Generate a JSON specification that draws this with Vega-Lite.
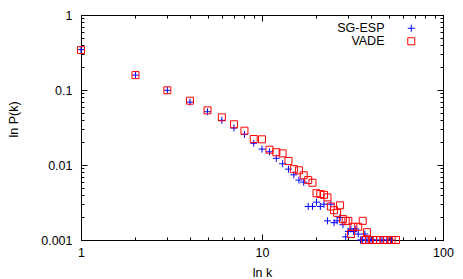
{
  "$schema": "https://vega.github.io/schema/vega-lite/v6.json",
  "width": 362,
  "height": 225,
  "autosize": {"type": "none"},
  "padding": {"left": 81, "top": 15, "right": 20, "bottom": 39},
  "background": "white",
  "config": {
    "font": "Liberation Sans",
    "view": {"stroke": "black", "strokeWidth": 1}
  },
  "data": {
    "values": [
      {"series": "SG-ESP", "k": 1, "p": 0.345},
      {"series": "SG-ESP", "k": 2, "p": 0.158},
      {"series": "SG-ESP", "k": 3, "p": 0.099},
      {"series": "SG-ESP", "k": 4, "p": 0.069},
      {"series": "SG-ESP", "k": 5, "p": 0.0513},
      {"series": "SG-ESP", "k": 6, "p": 0.0394},
      {"series": "SG-ESP", "k": 7, "p": 0.0311},
      {"series": "SG-ESP", "k": 8, "p": 0.0256},
      {"series": "SG-ESP", "k": 9, "p": 0.0195},
      {"series": "SG-ESP", "k": 10, "p": 0.0163},
      {"series": "SG-ESP", "k": 11, "p": 0.015},
      {"series": "SG-ESP", "k": 12, "p": 0.0123},
      {"series": "SG-ESP", "k": 13, "p": 0.0104},
      {"series": "SG-ESP", "k": 14, "p": 0.0088},
      {"series": "SG-ESP", "k": 15, "p": 0.0074},
      {"series": "SG-ESP", "k": 16, "p": 0.0063},
      {"series": "SG-ESP", "k": 17, "p": 0.0059},
      {"series": "SG-ESP", "k": 18, "p": 0.0028},
      {"series": "SG-ESP", "k": 19, "p": 0.0028},
      {"series": "SG-ESP", "k": 20, "p": 0.0032},
      {"series": "SG-ESP", "k": 21, "p": 0.0028},
      {"series": "SG-ESP", "k": 22, "p": 0.003},
      {"series": "SG-ESP", "k": 23, "p": 0.0018},
      {"series": "SG-ESP", "k": 24, "p": 0.003},
      {"series": "SG-ESP", "k": 25, "p": 0.0017},
      {"series": "SG-ESP", "k": 26, "p": 0.0018},
      {"series": "SG-ESP", "k": 27, "p": 0.002},
      {"series": "SG-ESP", "k": 28, "p": 0.0016},
      {"series": "SG-ESP", "k": 29, "p": 0.0011},
      {"series": "SG-ESP", "k": 30, "p": 0.0013},
      {"series": "SG-ESP", "k": 31, "p": 0.0014},
      {"series": "SG-ESP", "k": 32, "p": 0.0013},
      {"series": "SG-ESP", "k": 33, "p": 0.0014},
      {"series": "SG-ESP", "k": 34, "p": 0.0012},
      {"series": "SG-ESP", "k": 37, "p": 0.0012},
      {"series": "SG-ESP", "k": 35, "p": 0.001},
      {"series": "SG-ESP", "k": 36, "p": 0.001},
      {"series": "SG-ESP", "k": 38, "p": 0.001},
      {"series": "SG-ESP", "k": 40, "p": 0.001},
      {"series": "SG-ESP", "k": 41, "p": 0.001},
      {"series": "SG-ESP", "k": 43, "p": 0.001},
      {"series": "SG-ESP", "k": 46, "p": 0.001},
      {"series": "SG-ESP", "k": 49, "p": 0.001},
      {"series": "SG-ESP", "k": 52, "p": 0.001},
      {"series": "VADE", "k": 1, "p": 0.34},
      {"series": "VADE", "k": 2, "p": 0.158},
      {"series": "VADE", "k": 3, "p": 0.099},
      {"series": "VADE", "k": 4, "p": 0.072},
      {"series": "VADE", "k": 5, "p": 0.0536},
      {"series": "VADE", "k": 6, "p": 0.0432},
      {"series": "VADE", "k": 7, "p": 0.0349},
      {"series": "VADE", "k": 8, "p": 0.0287},
      {"series": "VADE", "k": 9, "p": 0.0222},
      {"series": "VADE", "k": 10, "p": 0.022},
      {"series": "VADE", "k": 11, "p": 0.016},
      {"series": "VADE", "k": 12, "p": 0.0148},
      {"series": "VADE", "k": 13, "p": 0.0143},
      {"series": "VADE", "k": 14, "p": 0.0113},
      {"series": "VADE", "k": 15, "p": 0.0088},
      {"series": "VADE", "k": 16, "p": 0.0085},
      {"series": "VADE", "k": 17, "p": 0.0073},
      {"series": "VADE", "k": 18, "p": 0.0063},
      {"series": "VADE", "k": 19, "p": 0.0058},
      {"series": "VADE", "k": 20, "p": 0.0042},
      {"series": "VADE", "k": 21, "p": 0.0041},
      {"series": "VADE", "k": 22, "p": 0.004},
      {"series": "VADE", "k": 23, "p": 0.0037},
      {"series": "VADE", "k": 24, "p": 0.0028},
      {"series": "VADE", "k": 25, "p": 0.0025},
      {"series": "VADE", "k": 26, "p": 0.0023},
      {"series": "VADE", "k": 27, "p": 0.0029},
      {"series": "VADE", "k": 28, "p": 0.0019},
      {"series": "VADE", "k": 29, "p": 0.0018},
      {"series": "VADE", "k": 30, "p": 0.0018},
      {"series": "VADE", "k": 31, "p": 0.0012},
      {"series": "VADE", "k": 32, "p": 0.0015},
      {"series": "VADE", "k": 34, "p": 0.0015},
      {"series": "VADE", "k": 36, "p": 0.0018},
      {"series": "VADE", "k": 38, "p": 0.00127},
      {"series": "VADE", "k": 37, "p": 0.001},
      {"series": "VADE", "k": 39, "p": 0.001},
      {"series": "VADE", "k": 41, "p": 0.001},
      {"series": "VADE", "k": 43, "p": 0.001},
      {"series": "VADE", "k": 45, "p": 0.001},
      {"series": "VADE", "k": 47, "p": 0.001},
      {"series": "VADE", "k": 49, "p": 0.001},
      {"series": "VADE", "k": 52, "p": 0.001},
      {"series": "VADE", "k": 55, "p": 0.001}
    ]
  },
  "layer": [
    {
      "mark": {"type": "point", "filled": false, "strokeWidth": 1, "size": 49, "opacity": 1},
      "encoding": {
        "x": {
          "field": "k", "type": "quantitative",
          "scale": {"type": "log", "domain": [1, 100], "nice": false},
          "axis": {
            "orient": "bottom",
            "values": [1,2,3,4,5,6,7,8,9,10,20,30,40,50,60,70,80,90,100],
            "labelExpr": "datum.value == 1 ? '1' : datum.value == 10 ? '10' : datum.value == 100 ? '100' : ''",
            "tickSize": {"condition": {"test": "datum.value == 1 || datum.value == 10 || datum.value == 100", "value": -6}, "value": -3},
            "tickColor": "black", "domainColor": "black", "grid": false,
            "labelPadding": 12, "labelFontSize": 12.5, "labelColor": "black",
            "labelFlush": false, "labelOverlap": false,
            "title": "ln k", "titleFontSize": 12.5, "titleFontWeight": "normal", "titleColor": "black",
            "titleY": 32, "titleBaseline": "middle"
          }
        },
        "y": {
          "field": "p", "type": "quantitative",
          "scale": {"type": "log", "domain": [0.001, 1], "nice": false},
          "axis": {
            "orient": "left",
            "values": [0.001,0.002,0.003,0.004,0.005,0.006,0.007,0.008,0.009,0.01,0.02,0.03,0.04,0.05,0.06,0.07,0.08,0.09,0.1,0.2,0.3,0.4,0.5,0.6,0.7,0.8,0.9,1],
            "labelExpr": "datum.value == 1 ? '1' : datum.value == 0.1 ? '0.1' : datum.value == 0.01 ? '0.01' : datum.value == 0.001 ? '0.001' : ''",
            "tickSize": {"condition": {"test": "datum.value == 1 || datum.value == 0.1 || datum.value == 0.01 || datum.value == 0.001", "value": -6}, "value": -3},
            "tickColor": "black", "domainColor": "black", "grid": false,
            "labelPadding": 15, "labelFontSize": 12.5, "labelColor": "black",
            "labelFlush": false, "labelOverlap": false,
            "title": "ln P(k)", "titleFontSize": 12.5, "titleFontWeight": "normal", "titleColor": "black",
            "titleX": -68, "titleY": 104, "titleAngle": 270, "titleAlign": "center", "titleBaseline": "middle"
          }
        },
        "color": {
          "field": "series", "type": "nominal",
          "scale": {"domain": ["SG-ESP", "VADE"], "range": ["#0000ff", "#ff0000"]},
          "legend": {
            "title": null, "orient": "none", "legendX": 324, "legendY": 7,
            "labelAlign": "right", "labelOffset": -33, "symbolSize": 49, "symbolStrokeWidth": 1,
            "labelFontSize": 12.5, "labelColor": "black", "padding": 0, "rowPadding": -7
          }
        },
        "shape": {
          "field": "series", "type": "nominal",
          "scale": {"domain": ["SG-ESP", "VADE"], "range": ["M-1,0H1M0,-1V1", "square"]},
          "legend": {
            "title": null, "orient": "none", "legendX": 324, "legendY": 7,
            "labelAlign": "right", "labelOffset": -33, "symbolSize": 49, "symbolStrokeWidth": 1,
            "labelFontSize": 12.5, "labelColor": "black", "padding": 0, "rowPadding": -7
          }
        }
      }
    },
    {
      "mark": {"type": "point", "opacity": 0},
      "encoding": {
        "x": {
          "field": "k", "type": "quantitative",
          "scale": {"type": "log", "domain": [1, 100], "nice": false},
          "axis": {
            "orient": "top",
            "values": [1,2,3,4,5,6,7,8,9,10,20,30,40,50,60,70,80,90,100],
            "labels": false, "title": null,
            "tickSize": {"condition": {"test": "datum.value == 1 || datum.value == 10 || datum.value == 100", "value": -6}, "value": -3},
            "tickColor": "black", "domainColor": "black", "grid": false
          }
        },
        "y": {
          "field": "p", "type": "quantitative",
          "scale": {"type": "log", "domain": [0.001, 1], "nice": false},
          "axis": {
            "orient": "right",
            "values": [0.001,0.002,0.003,0.004,0.005,0.006,0.007,0.008,0.009,0.01,0.02,0.03,0.04,0.05,0.06,0.07,0.08,0.09,0.1,0.2,0.3,0.4,0.5,0.6,0.7,0.8,0.9,1],
            "labels": false, "title": null,
            "tickSize": {"condition": {"test": "datum.value == 1 || datum.value == 0.1 || datum.value == 0.01 || datum.value == 0.001", "value": -6}, "value": -3},
            "tickColor": "black", "domainColor": "black", "grid": false
          }
        }
      }
    }
  ],
  "resolve": {"axis": {"x": "independent", "y": "independent"}}
}
